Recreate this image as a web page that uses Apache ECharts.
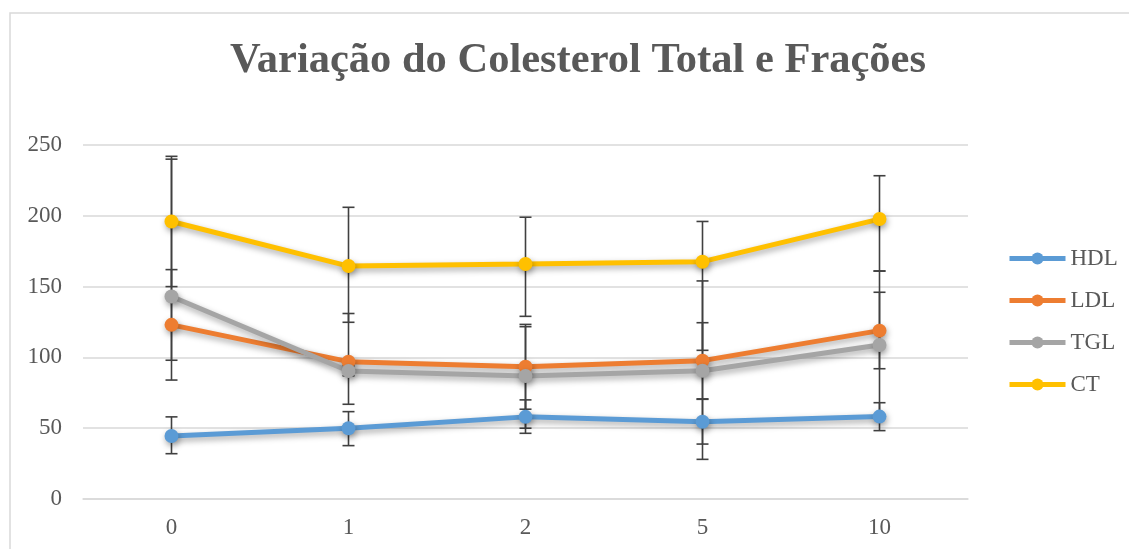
<!DOCTYPE html>
<html>
<head>
<meta charset="utf-8">
<script src="https://cdn.jsdelivr.net/npm/echarts@6/dist/echarts.min.js"></script>
<style>html,body{margin:0;padding:0;background:#fff;}#c{width:1129px;height:549px;}</style>
</head>
<body>
<div id="c"></div>
<script>
var categories = ['0', '1', '2', '5', '10'];
var hdl = [44.5, 50, 58, 54.6, 58.2];
var ldl = [123, 97, 93.4, 97.7, 118.9];
var tgl = [143, 90.4, 86.9, 90.6, 108.8];
var ct  = [196, 164.5, 166, 167.6, 197.7];
var hdlLow = [32, 37.7, 46.4, 38.8, 48.3],   hdlHigh = [58, 61.7, 70, 70.4, 68];
var ldlLow = [84, 66.9, 63.4, 70.7, 92],     ldlHigh = [162, 131, 123.3, 124.5, 146];
var tglLow = [98, 87, 50, 28, 57],           tglHigh = [240, 94, 121.7, 154, 161];
var ctLow  = [150, 124.8, 129, 105, 161],    ctHigh  = [242, 206, 199, 196, 228.3];
var yTicks = [0, 50, 100, 150, 200, 250];

var FONT = "'Liberation Serif', 'Times New Roman', serif";
var TXT = '#595959';

function errSeries(low, high) {
  var data = low.map(function (l, i) { return [i, l, high[i]]; });
  return {
    type: 'custom', z: 1, silent: true,
    data: data,
    encode: { x: 0, y: [1, 2] },
    renderItem: function (params, api) {
      var i = api.value(0);
      var p1 = api.coord([i, api.value(1)]);
      var p2 = api.coord([i, api.value(2)]);
      var w = 6;
      var st = { stroke: '#404040', lineWidth: 1.6 };
      return { type: 'group', children: [
        { type: 'line', shape: { x1: p1[0], y1: p1[1], x2: p2[0], y2: p2[1] }, style: st },
        { type: 'line', shape: { x1: p1[0] - w, y1: p1[1], x2: p1[0] + w, y2: p1[1] }, style: st },
        { type: 'line', shape: { x1: p2[0] - w, y1: p2[1], x2: p2[0] + w, y2: p2[1] }, style: st }
      ]};
    }
  };
}
function lineSeries(name, data, color) {
  return {
    name: name, type: 'line', data: data, z: 3,
    symbol: 'circle', symbolSize: 14,
    itemStyle: { color: color, shadowColor: 'rgba(0,0,0,0.35)', shadowBlur: 6, shadowOffsetX: 1, shadowOffsetY: 3 },
    lineStyle: { color: color, width: 5, shadowColor: 'rgba(0,0,0,0.35)', shadowBlur: 6, shadowOffsetX: 1, shadowOffsetY: 3 },
    emphasis: { disabled: true }
  };
}

var chart = echarts.init(document.getElementById('c'));
chart.setOption({
  animation: false,
  backgroundColor: '#fff',
  title: {
    text: 'Variação do Colesterol Total e Frações',
    left: 225, top: 35,
    textStyle: { fontFamily: FONT, fontWeight: 'bold', fontSize: 42.5, color: TXT }
  },
  graphic: [{
    type: 'rect', silent: true, z: -1,
    shape: { x: 10, y: 13, width: 1140, height: 560 },
    style: { fill: 'none', stroke: '#d9d9d9', lineWidth: 1.5 }
  }],
  legend: {
    orient: 'vertical', left: 1002, top: 242,
    itemWidth: 56, itemHeight: 15, itemGap: 19,
    data: ['HDL', 'LDL', 'TGL', 'CT'],
    lineStyle: { width: 5 },
    textStyle: { fontFamily: FONT, fontSize: 23, color: TXT }
  },
  grid: { left: 83, right: 161, top: 145, bottom: 50 },
  xAxis: {
    type: 'category', data: categories, boundaryGap: true,
    axisLine: { lineStyle: { color: '#d9d9d9', width: 1.5 } },
    axisTick: { show: false },
    axisLabel: { fontFamily: FONT, fontSize: 23, color: TXT, margin: 17 }
  },
  yAxis: {
    type: 'value', min: yTicks[0], max: yTicks[yTicks.length - 1], interval: 50,
    axisLine: { show: false }, axisTick: { show: false },
    splitLine: { lineStyle: { color: '#d9d9d9', width: 1.5 } },
    axisLabel: { fontFamily: FONT, fontSize: 23, color: TXT, margin: 21 }
  },
  series: [
    errSeries(hdlLow, hdlHigh), errSeries(ldlLow, ldlHigh), errSeries(tglLow, tglHigh), errSeries(ctLow, ctHigh),
    lineSeries('HDL', hdl, '#5B9BD5'),
    lineSeries('LDL', ldl, '#ED7D31'),
    lineSeries('TGL', tgl, '#A5A5A5'),
    lineSeries('CT', ct, '#FFC000')
  ]
});
</script>
</body>
</html>
